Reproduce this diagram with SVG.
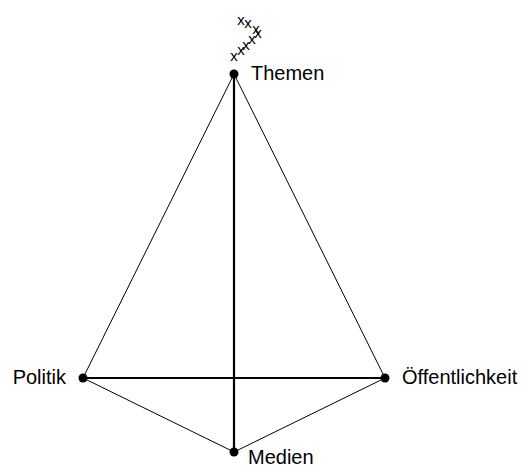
<svg xmlns="http://www.w3.org/2000/svg" width="523" height="466" viewBox="0 0 523 466">
<style>
.thin{stroke:#000;stroke-width:1;fill:none}
.thick{stroke:#000;stroke-width:2.2;fill:none}
.dot{fill:#000}
.lbl{font-family:"Liberation Sans",Arial,sans-serif;font-size:20px;fill:#000}
.x{font-family:"Liberation Sans",Arial,sans-serif;font-size:15px;fill:#000;text-anchor:middle}
</style>
<rect width="523" height="466" fill="#fff"/>
<g id="connectors">
<line class="thin" x1="234" y1="74" x2="83" y2="378"/>
<line class="thin" x1="234" y1="74" x2="385" y2="378"/>
<line class="thick" x1="234" y1="74" x2="234" y2="452"/>
<line class="thick" x1="83" y1="378" x2="385" y2="378"/>
<line class="thin" x1="83" y1="378" x2="234" y2="452"/>
<line class="thin" x1="385" y1="378" x2="234" y2="452"/>
</g>
<g id="marks">
<text class="x" x="241" y="25">x</text>
<text class="x" x="248" y="28">x</text>
<text class="x" x="256" y="34">x</text>
<text class="x" x="258" y="38">x</text>
<text class="x" x="252" y="44">x</text>
<text class="x" x="246" y="50">x</text>
<text class="x" x="241" y="55">x</text>
<text class="x" x="234" y="61">x</text>
</g>
<g id="node-themen">
<circle class="dot" cx="234" cy="74" r="4.5"/>
<text class="lbl" x="251" y="80">Themen</text>
</g>
<g id="node-politik">
<circle class="dot" cx="83" cy="378" r="4.5"/>
<text class="lbl" x="66" y="384" text-anchor="end">Politik</text>
</g>
<g id="node-oeffentlichkeit">
<circle class="dot" cx="385" cy="378" r="4.5"/>
<text class="lbl" x="402" y="384">Öffentlichkeit</text>
</g>
<g id="node-medien">
<circle class="dot" cx="234" cy="452" r="4.5"/>
<text class="lbl" x="248" y="464">Medien</text>
</g>
</svg>
